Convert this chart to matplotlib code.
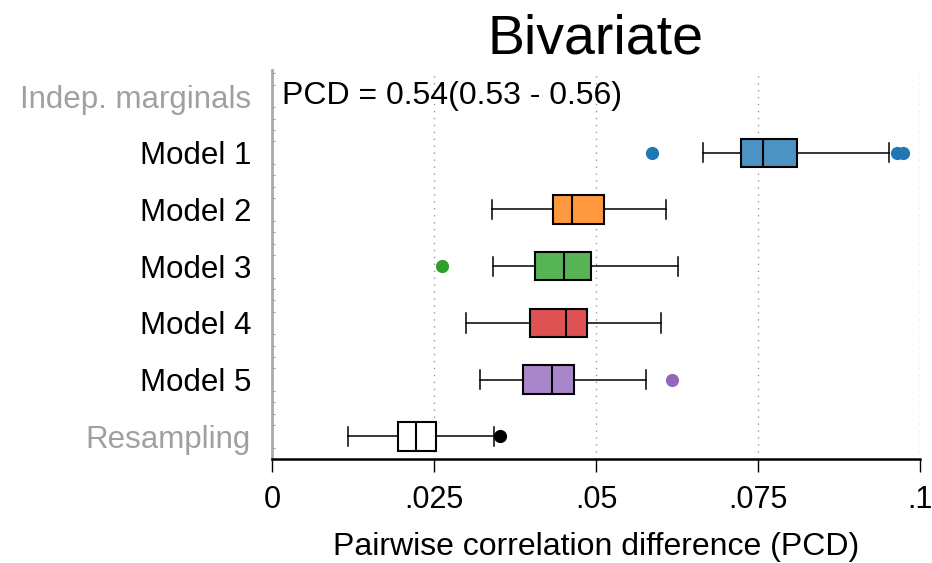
import matplotlib.pyplot as plt
import matplotlib.colors as mcolors
from matplotlib.ticker import MultipleLocator

plt.rcParams['font.family'] = ['Liberation Sans', 'DejaVu Sans']

# Row labels (top to bottom)
labels = ['Indep. marginals', 'Model 1', 'Model 2', 'Model 3', 'Model 4', 'Model 5', 'Resampling']
label_colors = ['#a0a0a0', 'black', 'black', 'black', 'black', 'black', '#a0a0a0']

# Box statistics (whisker low, q1, median, q3, whisker high)
models = ['Model 1', 'Model 2', 'Model 3', 'Model 4', 'Model 5', 'Resampling']
whislo = [0.0665, 0.0340, 0.0341, 0.0299, 0.0321, 0.0117]
q1 = [0.0724, 0.0434, 0.0406, 0.0398, 0.0387, 0.0194]
med = [0.0758, 0.0463, 0.0451, 0.0454, 0.0432, 0.0222]
q3 = [0.0810, 0.0512, 0.0492, 0.0486, 0.0466, 0.0253]
whishi = [0.0952, 0.0608, 0.0627, 0.0600, 0.0577, 0.0343]
fliers = [[0.0586, 0.0965, 0.0974], [], [0.0262], [], [0.0617], [0.0352]]
colors = ['#1f77b4', '#ff7f0e', '#2ca02c', '#d62728', '#9467bd', 'black']

pcd_text = 'PCD = 0.54(0.53 - 0.56)'


def lighten(c, a=0.8):
    # colour at alpha a over white
    r, g, b = mcolors.to_rgb(c)
    return (r * a + 1 - a, g * a + 1 - a, b * a + 1 - a)


fig = plt.figure(figsize=(9.32, 5.63), dpi=100)
ax = fig.add_axes([0.2918, 0.1847, 0.6953, 0.691])

n = len(labels)
ypos = [n - 1 - i for i in range(n)]  # top row highest

for i, m in enumerate(models):
    pos = ypos[i + 1]
    stats = [dict(whislo=whislo[i], q1=q1[i], med=med[i], q3=q3[i],
                  whishi=whishi[i], fliers=fliers[i])]
    face = lighten(colors[i]) if m != 'Resampling' else 'white'
    ax.bxp(stats, positions=[pos], widths=0.5, vert=False, patch_artist=True,
           capwidths=0.34,
           boxprops=dict(facecolor=face, edgecolor='black', linewidth=1.5),
           medianprops=dict(color='black', linewidth=1.5),
           whiskerprops=dict(color='black', linewidth=1.1),
           capprops=dict(color='black', linewidth=1.1),
           flierprops=dict(marker='o', markerfacecolor=colors[i], markeredgecolor='none',
                           markersize=9.5))

ax.text(0.0015, ypos[0], pcd_text, fontsize=23, va='center', ha='left')

ax.set_xlim(0, 0.1)
ax.set_ylim(-0.4, n - 1 + 0.46)
ax.set_xticks([0, 0.025, 0.05, 0.075, 0.1])
ax.set_xticklabels(['0', '.025', '.05', '.075', '.1'], fontsize=22)
ax.set_yticks(ypos)
ax.set_yticklabels(labels, fontsize=22.5)
for t, c in zip(ax.get_yticklabels(), label_colors):
    t.set_color(c)

for x in [0.025, 0.05, 0.075, 0.1]:
    ax.axvline(x, color='#999999', linestyle=(0, (1, 4)), linewidth=1, zorder=0)

ax.yaxis.set_minor_locator(MultipleLocator(0.2))
ax.tick_params(axis='y', which='major', length=0, pad=15)
ax.tick_params(axis='y', which='minor', direction='in', length=2.5, color='#999999', width=0.8)
ax.tick_params(axis='x', which='major', length=9, width=1, pad=10)

ax.spines['top'].set_visible(False)
ax.spines['right'].set_visible(False)
ax.spines['left'].set_color('#aaaaaa')
ax.spines['left'].set_linewidth(2)
ax.spines['bottom'].set_linewidth(1.8)

ax.set_xlabel('Pairwise correlation difference (PCD)', fontsize=23, labelpad=12)
ax.set_title('Bivariate', fontsize=40, pad=12)

fig.savefig('out.png', dpi=100)
